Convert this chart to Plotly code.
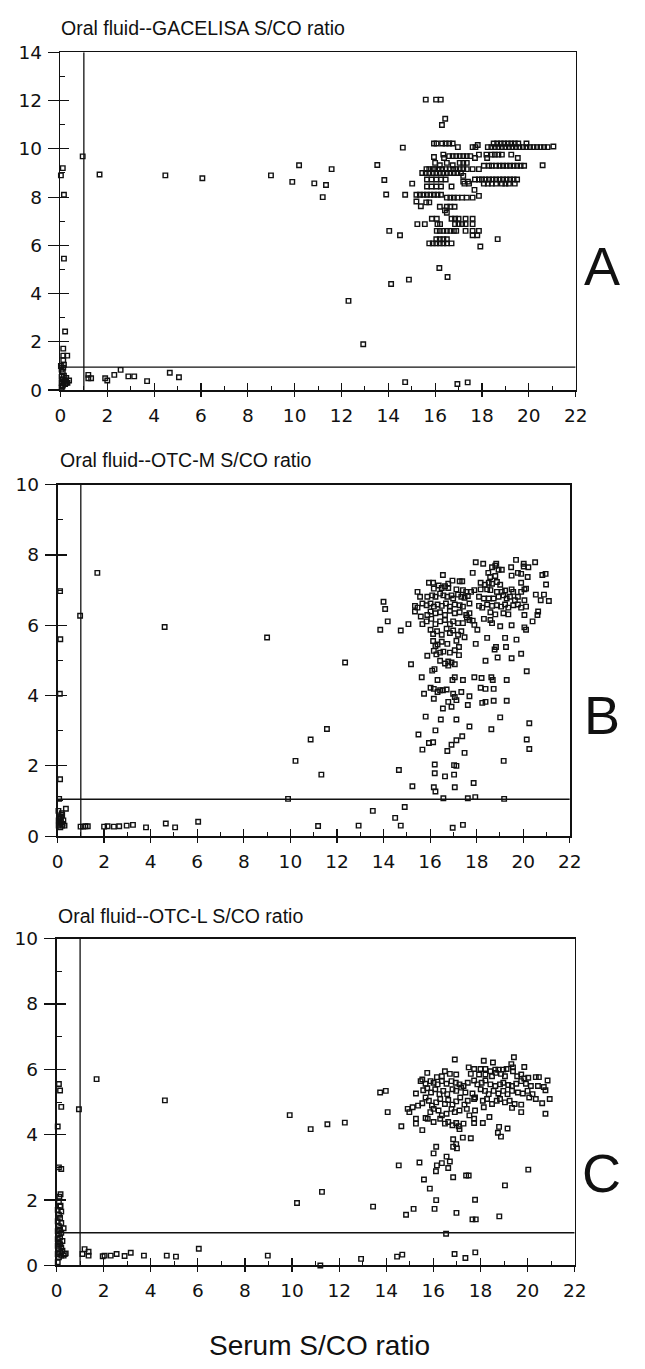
import plotly.graph_objects as go

# ---------------- data ----------------
panel_titles = ["Oral fluid--GACELISA S/CO ratio",
                "Oral fluid--OTC-M S/CO ratio",
                "Oral fluid--OTC-L S/CO ratio"]
panel_letters = ["A", "B", "C"]
x_axis_title = "Serum S/CO ratio"
x_max = 22
y_max = [14, 10, 10]
x_tick_vals = [0, 2, 4, 6, 8, 10, 12, 14, 16, 18, 20, 22]
x_minor_vals = [1, 3, 5, 7, 9, 11, 13, 15, 17, 19, 21]
cutoff_x = [1.0, 1.0, 1.0]
cutoff_y = [0.95, 1.05, 1.0]

# Panel A : serum vs GACELISA (x, y)
pts_A = [
    (0.05, 0.1), (0.1, 0.2), (0.2, 0.25), (0.05, 0.3), (0.15, 0.35), (0.3, 0.3), (0.1, 0.45), (0.25, 0.5),
    (0.37, 0.4), (0.05, 0.55), (0.15, 0.6), (0.1, 0.75), (0.05, 0.85), (0.12, 0.93), (0.02, 1.0), (0.15, 1.05),
    (0.12, 1.24), (0.12, 1.43), (0.29, 1.43), (0.12, 1.72), (0.2, 2.43), (0.15, 5.45), (0.15, 8.1), (0.02, 8.9),
    (0.1, 9.2), (0.95, 9.69), (1.67, 8.94), (0.08, 0.15), (0.2, 0.4), (0.25, 0.3),
    (1.19, 0.63), (1.31, 0.49), (1.19, 0.49), (1.91, 0.49), (2.0, 0.4), (2.3, 0.63), (2.57, 0.84), (2.9, 0.57),
    (3.15, 0.57), (3.7, 0.37), (4.67, 0.72), (5.06, 0.53), (14.72, 0.33), (16.95, 0.25), (17.39, 0.32),
    (4.48, 8.9), (6.06, 8.78), (8.99, 8.9), (9.9, 8.63), (10.19, 9.32), (10.84, 8.57), (11.34, 8.5), (11.2, 8.0),
    (11.58, 9.16), (12.3, 3.7), (12.93, 1.9),
    (13.53, 9.33), (13.83, 8.71), (13.91, 8.11), (14.62, 10.05), (14.72, 8.1), (15.02, 8.56), (14.04, 6.6),
    (14.5, 6.42), (15.6, 12.04), (16.04, 12.04), (16.24, 12.04), (16.43, 11.25), (16.29, 10.99), (16.18, 5.06),
    (16.53, 4.69), (14.12, 4.4), (14.88, 4.58), (15.2, 7.82), (15.39, 7.62), (17.87, 8.05), (17.93, 5.95),
    (18.67, 6.26), (20.59, 9.32), (21.05, 10.1),
    # y ~ 10.2
    (15.95, 10.22), (16.06, 10.22), (16.3, 10.22), (16.45, 10.22), (16.6, 10.22), (16.75, 10.22), (18.5, 10.22),
    (18.65, 10.22), (18.8, 10.22), (18.95, 10.22), (19.1, 10.22), (19.25, 10.22), (19.4, 10.22), (19.55, 10.22),
    (19.9, 10.22),
    # y ~ 10.07
    (16.97, 10.07), (17.6, 10.07), (17.72, 10.07), (17.82, 10.16), (18.25, 10.07), (18.4, 10.07), (18.55, 10.07),
    (18.7, 10.07), (18.85, 10.07), (19.0, 10.07), (19.15, 10.07), (19.3, 10.07), (19.45, 10.07), (19.6, 10.07),
    (19.75, 10.07), (19.9, 10.07), (20.05, 10.07), (20.2, 10.07), (20.35, 10.07), (20.5, 10.07), (20.65, 10.07),
    (20.8, 10.07),
    # y ~ 9.7
    (15.95, 9.66), (16.35, 9.76), (16.38, 9.62), (16.6, 9.7), (16.75, 9.7), (16.9, 9.7), (17.05, 9.7), (17.2, 9.7),
    (17.35, 9.7), (17.5, 9.7), (17.7, 9.62), (17.87, 9.76), (18.19, 9.76), (18.22, 9.62), (18.42, 9.76),
    (18.55, 9.76), (18.7, 9.76), (18.85, 9.76), (19.25, 9.76), (19.53, 9.62),
    # y ~ 9.4 / 9.3
    (16.0, 9.42), (16.5, 9.42), (17.05, 9.42), (17.2, 9.42), (17.35, 9.42), (16.2, 9.32), (16.75, 9.32),
    (18.08, 9.3), (18.3, 9.3), (18.42, 9.3), (18.6, 9.3), (18.75, 9.3), (18.9, 9.3), (19.05, 9.3), (19.2, 9.3),
    (19.35, 9.3), (19.5, 9.3), (19.65, 9.3), (19.8, 9.3),
    # y ~ 9.16
    (15.63, 9.16), (15.75, 9.16), (15.9, 9.16), (16.0, 9.16), (16.15, 9.16), (16.3, 9.16), (16.45, 9.16),
    (16.62, 9.16), (16.77, 9.16), (16.9, 9.16), (17.05, 9.16), (17.2, 9.16), (17.35, 9.16), (17.6, 9.16),
    (17.87, 9.16),
    # y ~ 9.0
    (15.45, 9.0), (15.6, 9.0), (15.75, 9.0), (15.9, 9.0), (16.05, 9.0), (16.2, 9.0), (16.35, 9.0), (16.5, 9.0),
    (16.65, 9.0), (16.8, 9.0), (16.95, 9.0), (17.1, 9.0), (17.2, 8.88),
    # y ~ 8.73
    (15.65, 8.73), (15.85, 8.73), (16.05, 8.73), (16.25, 8.73), (16.45, 8.73), (17.7, 8.73), (17.87, 8.73),
    (18.0, 8.73), (18.15, 8.73), (18.3, 8.73), (18.45, 8.73), (18.6, 8.73), (18.75, 8.73), (18.9, 8.73),
    (19.05, 8.73), (19.2, 8.73), (19.35, 8.73), (19.5, 8.73), (17.2, 8.64), (17.4, 8.64),
    # y ~ 8.56 / 8.44
    (18.08, 8.56), (18.25, 8.56), (18.42, 8.56), (18.6, 8.56), (18.85, 8.56), (19.0, 8.56), (19.15, 8.56),
    (19.4, 8.56), (17.25, 8.56), (17.45, 8.56),
    (15.65, 8.44), (15.85, 8.44), (16.05, 8.44), (16.25, 8.44), (16.7, 8.44), (17.68, 8.3),
    # y ~ 8.1 / 8.0
    (15.2, 8.1), (15.35, 8.1), (15.5, 8.1), (15.65, 8.1), (15.8, 8.1), (15.95, 8.1), (16.1, 8.1), (16.25, 8.1),
    (16.5, 7.98), (16.65, 7.98), (16.8, 7.98), (16.95, 7.98), (17.15, 7.98), (17.35, 7.98), (17.6, 7.98),
    # y ~ 7.8 .. 7.35
    (15.62, 7.78), (15.75, 7.78), (16.2, 7.6), (16.5, 7.6), (16.65, 7.6), (16.83, 7.6), (16.42, 7.45),
    (16.5, 7.35),
    # y ~ 7.1
    (15.86, 7.1), (16.07, 7.1), (16.7, 7.1), (16.85, 7.1), (17.0, 7.1), (17.3, 7.1), (17.6, 7.1),
    # y ~ 6.88
    (15.24, 6.88), (15.56, 6.88), (16.1, 6.88), (16.21, 6.88), (16.85, 6.88), (17.0, 6.88), (17.15, 6.88),
    (17.3, 6.88), (17.6, 6.88),
    # y ~ 6.6
    (16.07, 6.6), (16.2, 6.6), (16.35, 6.6), (16.5, 6.6), (16.65, 6.6), (16.8, 6.6), (16.9, 6.6), (17.3, 6.6),
    (17.6, 6.6), (17.87, 6.6), (17.6, 6.42), (17.8, 6.42),
    # y ~ 6.25 / 6.08
    (16.05, 6.25), (16.2, 6.25), (16.35, 6.25), (16.5, 6.25),
    (15.75, 6.08), (15.9, 6.08), (16.05, 6.08), (16.2, 6.08), (16.35, 6.08), (16.5, 6.08), (16.7, 6.08),
]

# Panel B : serum vs OTC-M (x, y)
pts_B = [
    (0.11, 6.97), (1.71, 7.49), (0.97, 6.27), (0.12, 5.6), (0.1, 4.05), (0.11, 1.62), (0.07, 1.06), (0.04, 0.72),
    (0.36, 0.78), (0.05, 0.3), (0.1, 0.35), (0.15, 0.4), (0.2, 0.3), (0.25, 0.45), (0.1, 0.5), (0.15, 0.55),
    (0.2, 0.6), (0.05, 0.45), (0.3, 0.3), (0.12, 0.25), (0.18, 0.65), (0.08, 0.4), (0.22, 0.35),
    (0.99, 0.27), (1.1, 0.27), (1.2, 0.28), (1.3, 0.28), (2.0, 0.27), (2.15, 0.28), (2.42, 0.27), (2.65, 0.28),
    (2.97, 0.3), (3.24, 0.32), (3.8, 0.25), (4.65, 0.36), (5.05, 0.25), (6.04, 0.41), (4.6, 5.95), (9.0, 5.65),
    (10.22, 2.14), (9.9, 1.06), (10.87, 2.75), (11.57, 3.05), (11.33, 1.75), (12.35, 4.94),
    (17.96, 7.79), (18.28, 7.75), (18.84, 7.75), (19.69, 7.86), (20.02, 7.75), (20.51, 7.79), (19.48, 7.65),
    (18.66, 7.65), (18.8, 7.69), (18.94, 7.58), (19.08, 7.58), (20.02, 7.67), (20.22, 7.65),
    (16.55, 7.43), (17.83, 7.49), (18.5, 7.49), (18.58, 7.37), (18.8, 7.4), (19.5, 7.41), (19.77, 7.49),
    (19.91, 7.46), (20.19, 7.37), (20.82, 7.43), (20.96, 7.46),
    (15.95, 7.21), (16.13, 7.21), (16.78, 7.18), (16.96, 7.27), (17.27, 7.25), (17.38, 7.25), (18.17, 7.21),
    (18.35, 7.15), (18.52, 7.21), (18.66, 7.18), (18.87, 7.23), (19.01, 7.15), (19.22, 6.99), (19.91, 7.21),
    (20.05, 7.02), (20.12, 7.04), (20.98, 7.16),
    (15.46, 6.95), (16.16, 7.04), (16.37, 7.13), (16.5, 7.06), (16.64, 7.11), (16.78, 7.06), (17.13, 7.02),
    (17.41, 7.0), (17.55, 6.95), (17.76, 6.95), (17.9, 7.0), (18.17, 7.02), (18.45, 7.02), (18.59, 7.0),
    (18.87, 6.95), (19.08, 6.95), (19.5, 7.02), (19.57, 6.95), (19.91, 6.95), (20.54, 6.87), (20.89, 6.87),
    (15.57, 6.81), (15.88, 6.81), (16.09, 6.85), (16.23, 6.81), (16.43, 6.9), (16.57, 6.85), (16.74, 6.81),
    (16.92, 6.85), (16.99, 6.76), (17.2, 6.87), (17.34, 6.81), (17.48, 6.78), (17.62, 6.83), (18.1, 6.81),
    (18.31, 6.76), (18.52, 6.76), (18.73, 6.76), (18.94, 6.81), (19.15, 6.85), (19.29, 6.76), (19.43, 6.81),
    (19.64, 6.71), (19.77, 6.81), (20.05, 6.71), (20.75, 6.71), (21.1, 6.69), (14.0, 6.67),
    (15.35, 6.55), (15.46, 6.5), (15.67, 6.62), (15.85, 6.57), (16.02, 6.62), (16.16, 6.53), (16.32, 6.59),
    (16.5, 6.55), (16.68, 6.62), (16.85, 6.53), (17.06, 6.59), (17.27, 6.57), (17.41, 6.53), (17.69, 6.62),
    (18.1, 6.55), (18.24, 6.5), (18.45, 6.59), (18.66, 6.55), (18.87, 6.57), (19.05, 6.53), (19.22, 6.59),
    (19.36, 6.5), (19.57, 6.57), (19.77, 6.59), (19.91, 6.5), (20.12, 6.53), (14.07, 6.46),
    (15.35, 6.39), (15.6, 6.25), (15.88, 6.29), (16.02, 6.39), (16.23, 6.34), (16.43, 6.37), (16.64, 6.29),
    (16.85, 6.41), (17.06, 6.34), (17.27, 6.37), (17.55, 6.29), (17.69, 6.34), (18.59, 6.37), (18.8, 6.31),
    (19.15, 6.34), (19.36, 6.31), (20.05, 6.29), (20.64, 6.39), (20.61, 6.29),
    (15.67, 6.03), (15.85, 6.11), (16.05, 6.18), (16.23, 6.03), (16.43, 6.11), (16.64, 6.15), (16.85, 6.03),
    (16.99, 6.11), (17.2, 6.06), (17.41, 6.06), (17.58, 6.22), (17.69, 6.15), (17.83, 6.13), (17.9, 6.01),
    (18.03, 5.87), (18.31, 6.18), (18.59, 6.15), (18.66, 6.06), (19.01, 5.97), (19.5, 6.0), (20.05, 5.94),
    (20.12, 5.87), (20.4, 6.11), (14.18, 6.11), (13.86, 5.87), (14.74, 5.85), (15.07, 6.03),
    (16.02, 5.87), (16.13, 5.75), (16.3, 5.83), (16.5, 5.73), (16.71, 5.9), (16.85, 5.78), (16.99, 5.85),
    (17.2, 5.73), (17.34, 5.83), (17.48, 5.66), (18.45, 5.64), (19.22, 5.64), (19.71, 5.59),
    (16.13, 5.55), (16.23, 5.41), (16.32, 5.45), (16.5, 5.53), (16.74, 5.47), (17.13, 5.56), (17.24, 5.38),
    (17.96, 5.47), (18.77, 5.31), (18.83, 5.38), (19.26, 5.38), (19.91, 5.19),
    (15.88, 5.13), (16.16, 5.27), (16.27, 5.17), (16.43, 5.22), (16.57, 5.25), (16.85, 5.22), (17.06, 5.29),
    (17.24, 5.15), (18.38, 4.99), (18.9, 5.08), (19.5, 5.06), (15.18, 4.89),
    (16.43, 4.99), (16.64, 4.91), (16.78, 4.97), (16.92, 4.94), (17.06, 4.89), (16.09, 4.71), (16.19, 4.75),
    (16.78, 4.85),
    (15.64, 4.52), (16.32, 4.44), (16.96, 4.44), (17.06, 4.52), (17.41, 4.44), (17.9, 4.52), (18.21, 4.5),
    (18.63, 4.52), (18.69, 4.44), (19.29, 4.44), (20.15, 4.69),
    (15.74, 4.05), (16.02, 4.22), (16.16, 4.19), (16.32, 4.1), (16.43, 4.15), (16.55, 4.15), (16.71, 4.17),
    (16.99, 4.05), (17.06, 3.96), (17.34, 4.1), (17.69, 3.98), (18.17, 4.22), (18.38, 4.19), (18.73, 4.19),
    (16.16, 3.91), (16.55, 3.63), (16.78, 3.82), (16.92, 3.68), (17.13, 3.87), (17.62, 3.73), (18.24, 3.79),
    (18.38, 3.82), (18.73, 3.85), (19.29, 3.85),
    (15.81, 3.4), (16.46, 3.32), (17.13, 3.32), (17.69, 3.12), (18.63, 3.04), (19.01, 3.38), (20.26, 3.21),
    (16.23, 3.01),
    (15.5, 2.89), (15.95, 2.65), (16.13, 2.67), (16.92, 2.6), (17.13, 2.73), (17.38, 2.84), (15.67, 2.46),
    (16.74, 2.42), (17.48, 2.37), (20.15, 2.75), (20.26, 2.48), (19.16, 2.14),
    (16.2, 2.04), (17.03, 2.02), (17.13, 2.0), (16.2, 1.79), (16.64, 1.7), (17.03, 1.75), (14.66, 1.88),
    (15.24, 1.42), (16.16, 1.39), (16.23, 1.27), (17.06, 1.39), (17.87, 1.51), (16.57, 1.08), (17.62, 1.08),
    (17.94, 1.11), (19.18, 1.06),
    (13.54, 0.72), (14.91, 0.83), (14.5, 0.52), (14.74, 0.3), (12.93, 0.3), (11.19, 0.29), (16.97, 0.24),
    (17.41, 0.32),
]

# Panel C : serum vs OTC-L (x, y)
pts_C = [
    (0.05, 0.1), (0.1, 0.25), (0.2, 0.3), (0.05, 0.35), (0.15, 0.4), (0.25, 0.45), (0.1, 0.5), (0.2, 0.55),
    (0.05, 0.6), (0.15, 0.65), (0.1, 0.7), (0.25, 0.75), (0.05, 0.8), (0.15, 0.85), (0.1, 0.95), (0.2, 1.0),
    (0.05, 1.05), (0.15, 1.1), (0.3, 1.14), (0.1, 1.2), (0.2, 1.3), (0.05, 1.35), (0.15, 1.45), (0.1, 1.55),
    (0.2, 1.65), (0.05, 1.7), (0.15, 1.8), (0.17, 1.83), (0.1, 1.95), (0.12, 2.1), (0.17, 2.18), (0.3, 0.3),
    (0.35, 0.35), (0.39, 0.37), (0.1, 5.55), (0.15, 5.35), (0.2, 4.85), (0.05, 4.25), (0.2, 2.95), (0.1, 3.0),
    (0.95, 4.78), (1.7, 5.7), (4.6, 5.05), (9.9, 4.6),
    (1.19, 0.5), (1.36, 0.42), (1.36, 0.3), (1.1, 0.35), (1.96, 0.28), (2.04, 0.3), (2.3, 0.3), (2.55, 0.35),
    (2.89, 0.29), (3.15, 0.39), (3.71, 0.3), (4.68, 0.3), (5.07, 0.27), (6.04, 0.51), (8.97, 0.3), (11.2, 0.0),
    (12.93, 0.2), (14.46, 0.27), (14.68, 0.33), (16.54, 0.97), (16.9, 0.35), (17.36, 0.23), (17.78, 0.4),
    (10.21, 1.91),
    (16.91, 6.3), (18.14, 6.26), (18.53, 6.21), (19.42, 6.37), (19.31, 6.16), (19.38, 6.06), (19.86, 6.07),
    (17.5, 6.06), (17.73, 6.01), (18.0, 6.01), (18.21, 6.01), (18.42, 5.94), (18.63, 5.99), (18.76, 5.99),
    (18.97, 5.99), (19.11, 6.01),
    (15.74, 5.89), (16.49, 5.94), (16.7, 5.86), (16.97, 5.84), (15.53, 5.69), (16.15, 5.76), (16.36, 5.79),
    (17.59, 5.86), (17.94, 5.84), (18.21, 5.84), (18.49, 5.79), (18.65, 5.89), (18.87, 5.86), (19.04, 5.79),
    (19.38, 5.94), (19.56, 5.79), (19.73, 5.84), (19.86, 5.72), (20.03, 5.74), (20.35, 5.76), (20.48, 5.76),
    (20.85, 5.66),
    (15.46, 5.64), (15.67, 5.56), (15.88, 5.64), (16.01, 5.59), (16.18, 5.54), (16.36, 5.64), (16.56, 5.56),
    (16.77, 5.64), (16.95, 5.59), (17.11, 5.54), (17.28, 5.49), (17.46, 5.59), (17.73, 5.66), (17.87, 5.54),
    (18.05, 5.59), (18.21, 5.66), (18.42, 5.54), (18.63, 5.49), (18.83, 5.54), (18.97, 5.59), (19.18, 5.52),
    (19.34, 5.49), (19.52, 5.56), (19.73, 5.64), (19.93, 5.56), (20.14, 5.49), (20.44, 5.49), (20.69, 5.46),
    (15.26, 5.26), (15.57, 5.36), (15.74, 5.42), (15.9, 5.29), (16.08, 5.39), (16.26, 5.24), (16.42, 5.34),
    (16.59, 5.24), (16.81, 5.39), (16.97, 5.34), (17.18, 5.44), (17.36, 5.29), (17.66, 5.26), (17.77, 5.14),
    (18.01, 5.39), (18.19, 5.34), (18.35, 5.24), (18.56, 5.34), (18.76, 5.26), (18.97, 5.34), (19.15, 5.24),
    (19.34, 5.34), (19.59, 5.29), (19.8, 5.26), (20.0, 5.34), (20.21, 5.24), (20.76, 5.36), (13.74, 5.29),
    (13.98, 5.34), (20.94, 5.09),
    (15.53, 4.96), (15.67, 5.14), (15.81, 5.04), (15.94, 4.89), (16.12, 4.99), (16.29, 5.09), (16.49, 4.94),
    (16.63, 5.06), (16.81, 4.92), (16.97, 5.02), (17.14, 5.14), (17.32, 4.92), (17.46, 5.04), (17.73, 5.09),
    (18.1, 5.04), (18.28, 5.09), (18.49, 4.94), (18.69, 5.04), (18.83, 5.09), (19.04, 4.99), (19.24, 5.04),
    (19.45, 4.94), (19.73, 4.92), (20.07, 5.14), (20.35, 5.09), (20.62, 4.96),
    (14.91, 4.79), (15.12, 4.84), (15.35, 4.89), (14.98, 4.69), (15.87, 4.69), (16.01, 4.79), (16.22, 4.74),
    (16.36, 4.59), (16.56, 4.64), (16.77, 4.79), (16.91, 4.69), (17.11, 4.74), (17.42, 4.79), (17.53, 4.59),
    (17.77, 4.74), (18.14, 4.84), (18.38, 4.54), (19.34, 4.82), (19.73, 4.69), (20.76, 4.64), (14.06, 4.69),
    (15.26, 4.49), (15.26, 4.34), (15.67, 4.51), (15.76, 4.49), (16.01, 4.39), (16.29, 4.49), (16.49, 4.34),
    (16.63, 4.39), (16.81, 4.29), (16.97, 4.36), (17.08, 4.26), (17.28, 4.34), (17.73, 4.49), (17.73, 4.36),
    (18.1, 4.36), (18.79, 4.24), (19.15, 4.19), (15.53, 4.14), (14.64, 4.26), (10.79, 4.17), (11.5, 4.32),
    (12.24, 4.37), (17.11, 4.17),
    (18.74, 4.06), (18.87, 3.94), (16.84, 3.86), (17.25, 3.91), (17.59, 3.89), (16.97, 3.71), (16.84, 3.63),
    (17.0, 3.58), (16.12, 3.63),
    (16.01, 3.43), (16.56, 3.33), (16.7, 3.18), (16.36, 3.13), (16.15, 3.06), (15.41, 3.15), (14.53, 3.06),
    (16.63, 2.98),
    (16.11, 2.88), (16.84, 2.7), (17.39, 2.75), (17.5, 2.75), (15.6, 2.63), (20.03, 2.93),
    (15.85, 2.35), (19.04, 2.45), (11.27, 2.25), (16.12, 2.0), (17.77, 2.01), (13.44, 1.8), (15.16, 1.73),
    (16.05, 1.73), (16.98, 1.61), (14.84, 1.55), (17.66, 1.41), (17.8, 1.41), (18.8, 1.5),
]

panels = [pts_A, pts_B, pts_C]

# ---------------- layout geometry (styling) ----------------
W, H = 645, 1369
dom_x = [(56 / W, 586 / W), (53 / W, 580 / W), (52 / W, 585 / W)]
dom_y = [(1 - 385 / H, 1 - 42 / H), (1 - 838 / H, 1 - 481 / H), (1 - 1274 / H, 1 - 942 / H)]
title_pos = [(55 / W, 1 - 17 / H), (53 / W, 1 - 456 / H), (51 / W, 1 - 919 / H)]
letter_pos = [(613 / W, 1 - 259 / H), (613 / W, 1 - 715 / H), (613 / W, 1 - 1180 / H)]

FONT = "DejaVu Sans, Liberation Sans, Arial, sans-serif"
SANS = "Liberation Sans, Arial, Helvetica, sans-serif"
BLACK = "#111111"

fig = go.Figure()
layout = dict(width=W, height=H, margin=dict(l=0, r=0, t=0, b=0),
              paper_bgcolor="white", plot_bgcolor="white", showlegend=False,
              font=dict(family=FONT, color=BLACK))
annotations = []

for i, pts in enumerate(panels):
    n = i + 1
    m = i + 4
    xs = [p[0] for p in pts]
    ys = [p[1] for p in pts]
    bx = "x" if n == 1 else f"x{n}"
    by = "y" if n == 1 else f"y{n}"
    ox, oy = f"x{m}", f"y{m}"
    ytop = y_max[i]
    yt = list(range(0, ytop + 1, 2))
    ym = list(range(1, ytop, 2))

    fig.add_trace(go.Scatter(
        x=xs, y=ys, mode="markers", xaxis=bx, yaxis=by, cliponaxis=False,
        marker=dict(symbol="square-open", size=4.5, color=BLACK, line=dict(width=1.4, color=BLACK)),
        hoverinfo="x+y"))

    # cutoff lines (on overlay axes, which also carry inward ticks)
    fig.add_trace(go.Scatter(
        x=[cutoff_x[i], cutoff_x[i], None, 0, x_max],
        y=[0, ytop, None, cutoff_y[i], cutoff_y[i]],
        mode="lines", xaxis=ox, yaxis=oy, cliponaxis=False,
        line=dict(color=BLACK, width=1.3), hoverinfo="skip"))

    kx = "xaxis" if n == 1 else f"xaxis{n}"
    ky = "yaxis" if n == 1 else f"yaxis{n}"
    layout[kx] = dict(domain=list(dom_x[i]), range=[0, x_max], anchor=by,
                      showline=True, linecolor=BLACK, linewidth=1.8, mirror=True,
                      ticks="outside", ticklen=5, tickwidth=1.2, tickcolor=BLACK,
                      tickmode="array", tickvals=x_tick_vals,
                      tickfont=dict(family=FONT, size=18.5, color=BLACK),
                      ticklabelstandoff=3,
                      showgrid=False, zeroline=False, fixedrange=True)
    layout[ky] = dict(domain=list(dom_y[i]), range=[0, ytop], anchor=bx,
                      showline=True, linecolor=BLACK, linewidth=1.8, mirror=True,
                      ticks="outside", ticklen=11, tickwidth=1.2, tickcolor=BLACK,
                      tickmode="array", tickvals=yt,
                      tickfont=dict(family=FONT, size=18.5, color=BLACK),
                      ticklabelstandoff=2,
                      showgrid=False, zeroline=False, fixedrange=True)
    layout[f"xaxis{m}"] = dict(overlaying=bx, range=[0, x_max], anchor=oy,
                               showline=False, ticks="inside", ticklen=7, tickwidth=1.2,
                               tickcolor=BLACK, tickmode="array", tickvals=x_tick_vals,
                               showticklabels=False, showgrid=False, zeroline=False,
                               fixedrange=True,
                               minor=dict(ticks="inside", ticklen=4, tickwidth=1,
                                          tickcolor=BLACK, tickvals=x_minor_vals,
                                          showgrid=False))
    layout[f"yaxis{m}"] = dict(overlaying=by, range=[0, ytop], anchor=ox, side="left",
                               showline=False, ticks="inside", ticklen=9, tickwidth=1.2,
                               tickcolor=BLACK, tickmode="array", tickvals=yt,
                               showticklabels=False, showgrid=False, zeroline=False,
                               fixedrange=True,
                               minor=dict(ticks="inside", ticklen=5, tickwidth=1,
                                          tickcolor=BLACK, tickvals=ym, showgrid=False))

    annotations.append(dict(text=panel_titles[i], xref="paper", yref="paper",
                            x=title_pos[i][0], y=title_pos[i][1], xanchor="left",
                            yanchor="middle", showarrow=False,
                            font=dict(family=SANS, size=19.5, color=BLACK)))
    annotations.append(dict(text=panel_letters[i], xref="paper", yref="paper",
                            x=letter_pos[i][0], y=letter_pos[i][1], xanchor="center",
                            yanchor="middle", showarrow=False,
                            font=dict(family=SANS, size=54, color=BLACK)))

annotations.append(dict(text=x_axis_title, xref="paper", yref="paper",
                        x=322 / W, y=1 - 1355 / H, xanchor="center", yanchor="middle",
                        showarrow=False, font=dict(family=SANS, size=28, color=BLACK)))
layout["annotations"] = annotations
fig.update_layout(**layout)
fig.write_html("out.html",
               config={"displayModeBar": False, "staticPlot": True},
               post_script="document.body.style.margin='0';"
                           "document.body.style.overflow='hidden';")
